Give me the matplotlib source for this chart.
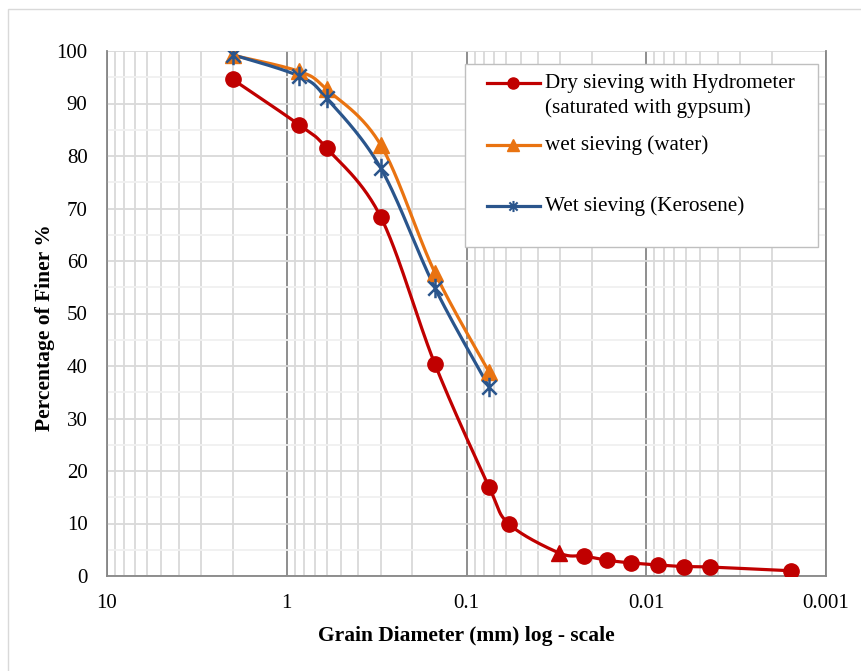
import numpy as np
import matplotlib
matplotlib.use("Agg")
import matplotlib.pyplot as plt
from matplotlib.path import Path
from matplotlib.lines import Line2D
from matplotlib.patches import Rectangle

# ---------------- data ----------------
dry_d = [2.0, 0.85, 0.6, 0.3, 0.15, 0.075, 0.058, 0.0306, 0.0222, 0.0165, 0.0122, 0.0086, 0.0062, 0.0044, 0.00157]
dry_p = [94.6, 85.9, 81.5, 68.4, 40.4, 17.0, 9.9, 4.4, 3.8, 3.0, 2.5, 2.1, 1.8, 1.7, 1.0]
water_d = [2.0, 0.85, 0.6, 0.3, 0.15, 0.075]
water_p = [99.2, 96.1, 92.7, 82.1, 57.8, 38.9]
kero_d = [2.0, 0.85, 0.6, 0.3, 0.15, 0.075]
kero_p = [99.3, 95.2, 91.0, 77.7, 54.9, 36.0]

labels = [["Dry sieving with Hydrometer", "(saturated with gypsum)"],
          ["wet sieving (water)"],
          ["Wet sieving (Kerosene)"]]
x_ticks = [10, 1, 0.1, 0.01, 0.001]
x_tick_labels = ["10", "1", "0.1", "0.01", "0.001"]
y_ticks = list(range(0, 101, 10))

RED = "#C00000"
ORANGE = "#E97311"
BLUE = "#2A558C"

plt.rcParams['font.family'] = ['Liberation Serif', 'DejaVu Serif']

star_path = Path([(-1, -1), (1, 1), (-1, 1), (1, -1), (0, -1.35), (0, 1.35)],
                 [Path.MOVETO, Path.LINETO, Path.MOVETO, Path.LINETO, Path.MOVETO, Path.LINETO])


def smooth(xd, yd, sx=179.75, sy=5.25, n=30):
    """Excel-like smoothed line (Catmull-Rom -> Bezier) in screen-like units."""
    u = -np.log10(np.asarray(xd, float)) * sx
    v = np.asarray(yd, float) * sy
    P = np.column_stack([u, v])
    m = len(P)
    out = [P[0]]
    t = np.linspace(0, 1, n)[1:]
    for i in range(m - 1):
        p0 = P[i - 1] if i > 0 else P[i]
        p1 = P[i]
        p2 = P[i + 1]
        p3 = P[i + 2] if i + 2 < m else P[i + 1]
        c1 = p1 + (p2 - p0) / 6.0
        c2 = p2 - (p3 - p1) / 6.0
        for tt in t:
            b = ((1 - tt) ** 3) * p1 + 3 * ((1 - tt) ** 2) * tt * c1 + 3 * (1 - tt) * tt ** 2 * c2 + tt ** 3 * p2
            out.append(b)
    out = np.array(out)
    return 10 ** (-out[:, 0] / sx), out[:, 1] / sy


fig = plt.figure(figsize=(8.61, 6.71), dpi=100)
fig.patches.append(Rectangle((8 / 861, -0.02), 1.1, 1 - 9 / 671 + 0.02, transform=fig.transFigure,
                             fill=False, edgecolor="#d9d9d9", linewidth=1.0))
ax = fig.add_axes([107 / 861, 95 / 671, 719 / 861, 525 / 671])

ax.set_xscale("log")
ax.set_xlim(10, 0.001)
ax.set_ylim(0, 100)

# grid
ax.set_yticks(y_ticks)
ax.set_yticks(np.arange(5, 100, 10), minor=True)
ax.set_xticks(x_ticks)
ax.set_xticklabels(x_tick_labels)
ax.xaxis.set_minor_locator(matplotlib.ticker.LogLocator(base=10, subs=np.arange(2, 10)))
ax.xaxis.set_minor_formatter(matplotlib.ticker.NullFormatter())
ax.yaxis.set_minor_formatter(matplotlib.ticker.NullFormatter())
ax.grid(True, which="major", axis="y", color="#d9d9d9", linewidth=1.3)
ax.grid(True, which="minor", axis="y", color="#f0f0f0", linewidth=1.3)
ax.grid(True, which="major", axis="x", color="#868686", linewidth=1.3)
ax.grid(True, which="minor", axis="x", color="#d9d9d9", linewidth=1.3)
ax.set_axisbelow(True)
ax.tick_params(which="both", length=0)
ax.tick_params(axis="y", labelsize=15, pad=14)
ax.tick_params(axis="x", labelsize=15, pad=13)
ax.spines["top"].set_visible(False)
for s in ["left", "bottom", "right"]:
    ax.spines[s].set_color("#868686")
    ax.spines[s].set_linewidth(1.3)

lw = 2.3
# dry
sx, sy = smooth(dry_d, dry_p)
ax.plot(sx, sy, color=RED, lw=lw, zorder=3)
circ_idx = [i for i in range(len(dry_d)) if i != 7]
ax.plot([dry_d[i] for i in circ_idx], [dry_p[i] for i in circ_idx], ls="none", marker="o",
        ms=11, color=RED, zorder=4)
ax.plot([dry_d[7]], [dry_p[7]], ls="none", marker="^", ms=11, color=RED, zorder=4)
# water
sx, sy = smooth(water_d, water_p)
ax.plot(sx, sy, color=ORANGE, lw=lw, zorder=3)
ax.plot(water_d, water_p, ls="none", marker="^", ms=12, color=ORANGE, zorder=4)
# kerosene
sx, sy = smooth(kero_d, kero_p)
ax.plot(sx, sy, color=BLUE, lw=lw, zorder=3)
ax.plot(kero_d, kero_p, ls="none", marker=star_path, ms=14, color=BLUE, mew=1.8, zorder=5)

ax.set_xlabel("Grain Diameter (mm) log - scale", fontsize=15.5, fontweight="bold", labelpad=9)
ax.set_ylabel("Percentage of Finer %", fontsize=15.5, fontweight="bold")
ax.yaxis.set_label_coords(-0.072, 0.474)

# legend (drawn in axes coordinates)
T = ax.transAxes
ax.add_patch(Rectangle((0.498, 0.627), 0.491, 0.348, transform=T, facecolor="white",
                       edgecolor="#bfbfbf", linewidth=1.0, zorder=6))
rows_y = [0.939, 0.821, 0.705]
styles = [dict(color=RED, marker="o", ms=8),
          dict(color=ORANGE, marker="^", ms=8),
          dict(color=BLUE, marker=star_path, ms=8, mew=1.5)]
line_step = 25 / 525
for yv, st, lab in zip(rows_y, styles, labels):
    ax.add_line(Line2D([0.528, 0.602], [yv, yv], transform=T, lw=lw, color=st["color"], zorder=7))
    ax.add_line(Line2D([0.565], [yv], transform=T, ls="none", zorder=8, **st))
    for k, line in enumerate(lab):
        ax.text(0.609, yv - k * line_step, line, transform=T, fontsize=15.2, va="center", zorder=8)

fig.savefig("out.png", dpi=100)
